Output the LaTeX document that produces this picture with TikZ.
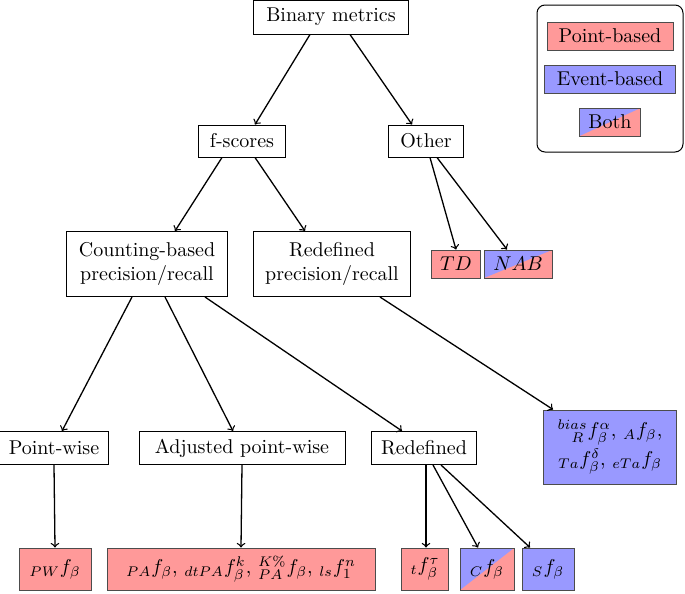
\documentclass[tikz,border=0pt]{standalone}
\usepackage{amsmath}
\usetikzlibrary{calc}
\begin{document}
\begin{tikzpicture}[x=0.5pt,y=-0.5pt,
  every node/.style={font=\normalsize},
  box/.style={draw,line width=0.5pt,fill=white,inner sep=0pt,align=center},
  pb/.style={draw=black!70,line width=0.5pt,fill=red!40,inner sep=0pt},
  eb/.style={draw=black!70,line width=0.5pt,fill=blue!40,inner sep=0pt,align=center},
  both/.style={draw=black!70,line width=0.5pt,fill=red!40,inner sep=0pt,path picture={\fill[blue!40] (path picture bounding box.north west) -- (path picture bounding box.north east) -- (path picture bounding box.south west) -- cycle;}},
  arr/.style={->,line width=0.65pt,>=to}]
\useasboundingbox (0,0) rectangle (685,594);
\node[box,minimum width=77.5pt,minimum height=17pt] (bm) at (331,17) {Binary metrics};
\node[box,minimum width=43.5pt,minimum height=16pt] (fs) at (242,141) {f-scores};
\node[box,minimum width=37.5pt,minimum height=16pt] (ot) at (426,141) {Other};
\node[box,minimum width=80.5pt,minimum height=32.5pt] (cb) at (147,264) {Counting-based\\precision/recall};
\node[box,minimum width=78.5pt,minimum height=32.5pt] (rp) at (332,264) {Redefined\\precision/recall};
\node[pb,minimum width=24.5pt,minimum height=14pt] (td) at (456,264) {$TD$};
\node[both,minimum width=34pt,minimum height=14pt] (nab) at (518,264) {$NAB$};
\node[box,minimum width=54.5pt,minimum height=16.5pt] (pw) at (54,448) {Point-wise};
\node[box,minimum width=103pt,minimum height=16.5pt] (ap) at (242,448) {Adjusted point-wise};
\node[box,minimum width=52.5pt,minimum height=16.5pt] (rd) at (424,448) {Redefined};
\node[eb,minimum width=66.5pt,minimum height=37pt] (bias) at (610,447) {${}^{bias}_{\;\;\;R}f^{\alpha}_{\beta}$, ${}_{A}f_{\beta}$,\\[1pt] ${}_{Ta}f^{\delta}_{\beta}$, ${}_{eTa}f_{\beta}$};
\node[pb,minimum width=36pt,minimum height=21pt] (pwf) at (55,569) {${}_{PW}f_{\beta}$};
\node[pb,minimum width=134pt,minimum height=21pt] (paf) at (241,569) {${}_{PA}f_{\beta}$, ${}_{dtPA}f^{k}_{\beta}$, ${}^{K\%}_{PA}f_{\beta}$, ${}_{ls}f^{n}_{1}$};
\node[pb,minimum width=23.5pt,minimum height=21pt] (tf) at (425,569) {${}_{t}f^{\tau}_{\beta}$};
\node[both,minimum width=27pt,minimum height=21pt] (cf) at (487,569) {${}_{C}f_{\beta}$};
\node[eb,minimum width=26pt,minimum height=21pt] (sf) at (548,569) {${}_{S}f_{\beta}$};
\node[draw,line width=0.5pt,rounded corners=4pt,minimum width=73pt,minimum height=73.5pt] (leg) at (610,78.5) {};
\node[pb,minimum width=63pt,minimum height=14pt] (l1) at (610,36) {Point-based};
\node[eb,minimum width=65.5pt,minimum height=14pt] (l2) at (610,79) {Event-based};
\node[both,minimum width=30.5pt,minimum height=14pt] (l3) at (610,122) {Both};
\draw[arr] ($(bm.south)+(-21,0)$) -- ($(fs.north)+(13,0)$);
\draw[arr] ($(bm.south)+(19,0)$) -- ($(ot.north)+(-14,0)$);
\draw[arr] ($(fs.south)+(-20,0)$) -- ($(cb.north)+(28,0)$);
\draw[arr] ($(fs.south)+(13,0)$) -- ($(rp.north)+(-27,0)$);
\draw[arr] ($(ot.south)+(4,0)$) -- (td.north);
\draw[arr] ($(ot.south)+(11,0)$) -- ($(nab.north)+(-11,0)$);
\draw[arr] ($(cb.south)+(-15,0)$) -- ($(pw.north)+(8,0)$);
\draw[arr] ($(cb.south)+(18,0)$) -- ($(ap.north)+(-9,0)$);
\draw[arr] ($(cb.south)+(58,0)$) -- ($(rd.north)+(-22,0)$);
\draw[arr] ($(rp.south)+(48,0)$) -- ($(bias.north)+(-57,0)$);
\draw[arr] (pw.south) -- (pwf.north);
\draw[arr] (ap.south) -- (paf.north);
\draw[arr] ($(rd.south)+(2,0)$) -- ($(tf.north)+(1,0)$);
\draw[arr] ($(rd.south)+(9,0)$) -- ($(cf.north)+(-9,0)$);
\draw[arr] ($(rd.south)+(17,0)$) -- ($(sf.north)+(-18,0)$);
\end{tikzpicture}
\end{document}
